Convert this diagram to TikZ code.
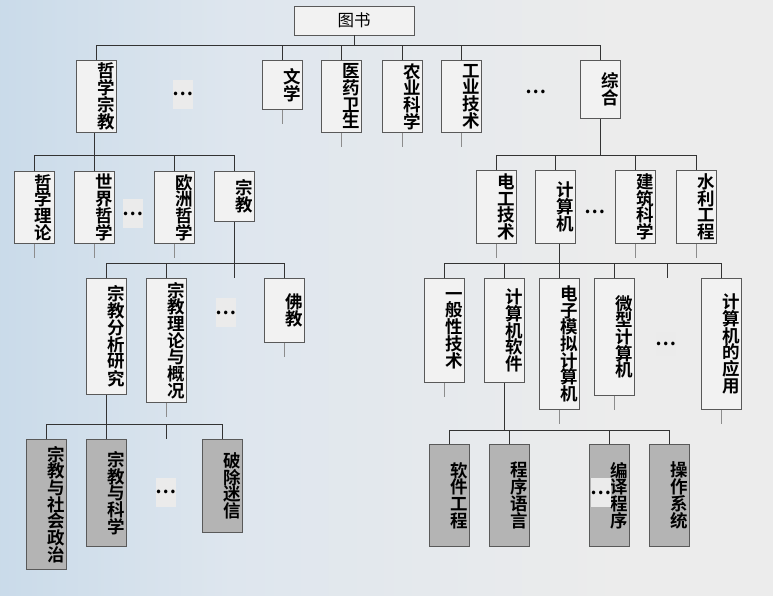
\documentclass[tikz,border=0pt]{standalone}
\usepackage{fontspec}
\newfontfamily\cjk{Noto Sans CJK SC}[BoldFont={Noto Sans CJK SC Bold}]
\usetikzlibrary{calc}

\definecolor{bgleft}{RGB}{168,200,226}
\definecolor{bgmid}{RGB}{222,230,238}
\definecolor{bgright}{RGB}{236,236,236}
\definecolor{boxfill}{RGB}{242,242,242}
\definecolor{leaffill}{RGB}{180,180,180}
\definecolor{dotfill}{RGB}{235,235,235}
\pgfdeclarehorizontalshading{bgshade}{100bp}{color(0bp)=(bgleft); color(40bp)=(bgmid); color(65bp)=(bgright); color(100bp)=(bgright)}

\begin{document}
\begin{tikzpicture}[
      x=1pt,
      y=-1pt,
      cat/.style={
                rectangle,
                draw=black!65,
                line width=0.8pt,
                fill=boxfill,
                anchor=north,
                text width=37pt,
                inner xsep=1.5pt,
                inner ysep=0pt,
                align=right,
                font=\cjk\bfseries\fontsize{17.5}{16.7}\selectfont
                },
      leaf/.style={
                cat,
                fill=leaffill
                },
      root/.style={
                rectangle,
                draw=black!65,
                line width=0.8pt,
                fill=boxfill,
                minimum width=120pt,
                minimum height=29pt,
                font=\cjk\fontsize{16.5}{16.5}\selectfont
                },
      dots/.style={
                rectangle,
                inner sep=0pt,
                minimum width=20pt,
                minimum height=29pt,
                font=\cjk\bfseries\fontsize{19}{19}\selectfont
                },
      line/.style={draw=black!80, line width=0.9pt},
      stub/.style={draw=black!45, line width=0.8pt}
]

\shade[shading=bgshade] (0,0) rectangle (773,595);
\useasboundingbox (0,0) rectangle (773,595);

\node[root] (tushu) at (354,20.5) {图书};

\node[cat, minimum height=72pt] (zxzj) at (96.5,60) {哲\\学\\宗\\教};
\node[dots, fill=dotfill] (dotsA) at (183,94) {…};
\node[cat, minimum height=49pt] (wenxue) at (282,60) {文\\学};
\node[cat, minimum height=72pt] (yiyao) at (341.5,60) {医\\药\\卫\\生};
\node[cat, minimum height=72pt] (nongye) at (402,60) {农\\业\\科\\学};
\node[cat, minimum height=72pt] (gongye) at (461.5,60) {工\\业\\技\\术};
\node[dots] (dotsB) at (536,92) {…};
\node[cat, minimum height=58pt] (zonghe) at (600.5,60) {综\\合};

\node[cat, minimum height=72pt] (zxll) at (34,171) {哲\\学\\理\\论};
\node[cat, minimum height=72pt] (sjzx) at (94,171) {世\\界\\哲\\学};
\node[dots, fill=dotfill] (dotsC) at (133,213.5) {…};
\node[cat, minimum height=72pt] (ozzx) at (174.5,171) {欧\\洲\\哲\\学};
\node[cat, minimum height=50pt] (zongjiao) at (234,171) {宗\\教};

\node[cat, minimum height=73pt] (dgjs) at (496,170) {电\\工\\技\\术};
\node[cat, minimum height=73pt] (jsj) at (555.5,170) {计\\算\\机};
\node[dots] (dotsD) at (595,212) {…};
\node[cat, minimum height=73pt] (jzkx) at (635.5,170) {建\\筑\\科\\学};
\node[cat, minimum height=73pt] (slgc) at (696,170) {水\\利\\工\\程};

\node[cat, minimum height=116pt] (zjfx) at (106,278) {宗\\教\\分\\析\\研\\究};
\node[cat, minimum height=124pt] (zjll) at (166,278) {宗\\教\\理\\论\\与\\概\\况};
\node[dots, fill=dotfill] (dotsE) at (226,312.5) {…};
\node[cat, minimum height=64pt] (fojiao) at (284.5,278) {佛\\教};

\node[cat, minimum height=104pt] (ybxjs) at (444,278) {一\\般\\性\\技\\术};
\node[cat, minimum height=104pt] (jsjrj) at (504,278) {计\\算\\机\\软\\件};
\node[cat, minimum height=131pt] (dzmn) at (559,278) {电\\子\\模\\拟\\计\\算\\机};
\node[cat, minimum height=117pt] (wxjsj) at (614,278) {微\\型\\计\\算\\机};
\node[dots, fill=dotfill, minimum height=24pt] (dotsF) at (666,344) {…};
\node[cat, minimum height=131pt] (jsjyy) at (721,278) {计\\算\\机\\的\\应\\用};

\node[leaf, minimum height=130pt] (zjsh) at (46,439) {宗\\教\\与\\社\\会\\政\\治};
\node[leaf, minimum height=107pt] (zjkx) at (106,439) {宗\\教\\与\\科\\学};
\node[dots, fill=dotfill] (dotsG) at (166,492) {…};
\node[leaf, minimum height=93pt] (pcmx) at (222.5,439) {破\\除\\迷\\信};

\node[leaf, minimum height=102pt] (rjgc) at (449,444) {软\\件\\工\\程};
\node[leaf, minimum height=102pt] (cxyy) at (509,444) {程\\序\\语\\言};
\node[leaf, minimum height=102pt] (bycx) at (609,444) {编\\译\\程\\序};
\node[dots, fill=dotfill, minimum width=18pt] (dotsH) at (601,492.5) {…};
\node[leaf, minimum height=102pt] (czxt) at (669,444) {操\\作\\系\\统};

\coordinate (bar1) at (0,45);
\coordinate (bar2) at (0,155);
\coordinate (bar3) at (0,263);
\coordinate (bar4) at (0,424);
\coordinate (bar5) at (0,430);
\coordinate (gapL) at (234,278);
\coordinate (gapR) at (667,278);
\coordinate (gapS) at (166,439);

\draw[line] (tushu.south) -- (tushu.south |- bar1);
\draw[line] (zxzj.north |- bar1) -- (zonghe.north |- bar1);
\foreach \n in {zxzj,wenxue,yiyao,nongye,gongye,zonghe}
  \draw[line] (\n.north |- bar1) -- (\n.north);

\draw[line] (sjzx.north |- zxzj.south) -- (sjzx.north);
\draw[line] (zxll.north |- bar2) -- (zongjiao.north |- bar2);
\foreach \n in {zxll,ozzx,zongjiao}
  \draw[line] (\n.north |- bar2) -- (\n.north);

\draw[line] (zonghe.south) -- (zonghe.south |- bar2);
\draw[line] (dgjs.north |- bar2) -- (slgc.north |- bar2);
\foreach \n in {dgjs,jsj,jzkx,slgc}
  \draw[line] (\n.north |- bar2) -- (\n.north);

\draw[line] (zongjiao.south) -- (gapL);
\draw[line] (zjfx.north |- bar3) -- (fojiao.north |- bar3);
\foreach \n in {zjfx,zjll,fojiao}
  \draw[line] (\n.north |- bar3) -- (\n.north);

\draw[line] (dzmn.north |- jsj.south) -- (dzmn.north);
\draw[line] (ybxjs.north |- bar3) -- (jsjyy.north |- bar3);
\draw[line] (gapR |- bar3) -- (gapR);
\foreach \n in {ybxjs,jsjrj,wxjsj,jsjyy}
  \draw[line] (\n.north |- bar3) -- (\n.north);

\draw[line] (zjkx.north |- zjfx.south) -- (zjkx.north);
\draw[line] (zjsh.north |- bar4) -- (pcmx.north |- bar4);
\draw[line] (gapS |- bar4) -- (gapS);
\foreach \n in {zjsh,pcmx}
  \draw[line] (\n.north |- bar4) -- (\n.north);

\draw[line] (jsjrj.south) -- (jsjrj.south |- bar5);
\draw[line] (rjgc.north |- bar5) -- (czxt.north |- bar5);
\foreach \n in {rjgc,cxyy,bycx,czxt}
  \draw[line] (\n.north |- bar5) -- (\n.north);

\foreach \n in {wenxue,yiyao,nongye,gongye,zxll,sjzx,ozzx,dgjs,jzkx,slgc,zjll,fojiao,ybxjs,dzmn,wxjsj,jsjyy}
  \draw[stub] (\n.south) -- ++(0,14);

\end{tikzpicture}
\end{document}
